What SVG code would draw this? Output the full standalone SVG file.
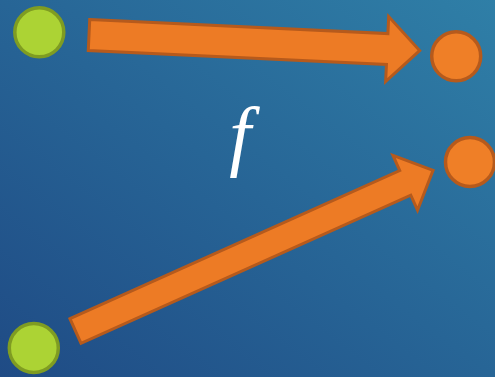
<svg xmlns="http://www.w3.org/2000/svg" width="495" height="377" viewBox="0 0 495 377">
  <defs>
    <linearGradient id="bg" x1="0" y1="1" x2="1" y2="0">
      <stop offset="0" stop-color="#1f4b85"/>
      <stop offset="1" stop-color="#2f7fa7"/>
    </linearGradient>
  </defs>
  <style>
    .src { fill: #acd334; stroke: #7f9c22; stroke-width: 3.5; }
    .dst { fill: #ef7f27; stroke: #b65a1c; stroke-width: 3.5; }
    .arrow { fill: #ed7b25; stroke: #b65a1c; stroke-width: 3; stroke-linejoin: miter; }
    .lbl { fill: #ffffff; font-family: "Liberation Serif", "DejaVu Serif", serif; font-style: italic; font-size: 78px; }
  </style>
  <rect x="0" y="0" width="495" height="377" fill="url(#bg)"/>
  <g id="connectors">
    <polygon class="arrow" transform="translate(89,35) rotate(2.7)" points="0,-15.5 298.5,-15.5 298.5,-32.5 331,0 298.5,32.5 298.5,15.5 0,15.5"/>
    <polygon class="arrow" transform="translate(75.5,331) rotate(-24.2)" points="0,-13.5 361.5,-13.5 361.5,-30 392,0 361.5,30 361.5,13.5 0,13.5"/>
  </g>
  <g id="src1"><circle class="src" cx="39.3" cy="32.3" r="24.5"/></g>
  <g id="src2"><circle class="src" cx="33.8" cy="348" r="24.5"/></g>
  <g id="dst1"><circle class="dst" cx="456.2" cy="56.3" r="24.5"/></g>
  <g id="dst2"><circle class="dst" cx="470" cy="162" r="24.5"/></g>
  <g id="label"><text class="lbl" x="240" y="161" text-anchor="middle">f</text></g>
</svg>
